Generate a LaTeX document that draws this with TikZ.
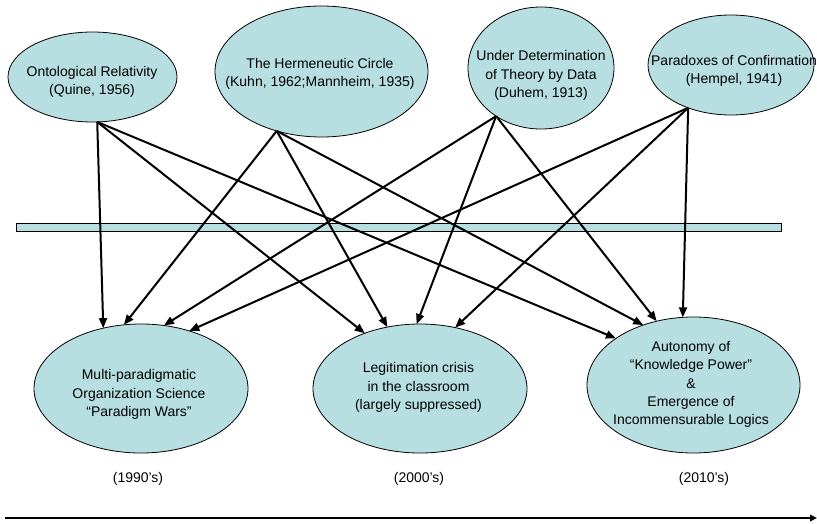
\documentclass[tikz,border=0pt]{standalone}
\usepackage{fontspec}
\setmainfont{Liberation Sans}
\usetikzlibrary{arrows.meta,shapes.geometric}
\definecolor{paleteal}{RGB}{183,223,226}
\begin{document}
\begin{tikzpicture}[x=1pt,y=-1pt,
  bubble/.style={ellipse,draw=black,line width=0.8pt,fill=paleteal,inner sep=0pt,outer sep=0pt},
  caption/.style={align=center,inner sep=0pt,font=\fontsize{14}{18.2}\selectfont},
  conn/.style={line width=2pt,-{Triangle[length=10pt,width=8pt]}},
  timeline/.style={line width=2.2pt,-{Triangle[length=7pt,width=6.5pt]}}]
\useasboundingbox (0,0) rectangle (817,523);

% upper row: sources
\node[bubble,minimum width=169pt,minimum height=90pt]  (e1) at (92.5,77) {};
\node[bubble,minimum width=213pt,minimum height=131pt] (e2) at (321.5,71.5) {};
\node[bubble,minimum width=146pt,minimum height=122pt] (e3) at (541,68) {};
\node[bubble,minimum width=166pt,minimum height=100pt] (e4) at (731,65) {};

\node[caption] (e1t) at (92,82) {Ontological Relativity\\(Quine, 1956)};
\node[caption] (e2t) at (320,73.6) {The Hermeneutic Circle\\(Kuhn, 1962;Mannheim, 1935)};
\node[caption] (e3t) at (541,75.4) {Under Determination\\of Theory by Data\\(Duhem, 1913)};
\node[caption] (e4t) at (734,71) {Paradoxes of Confirmation\\(Hempel, 1941)};

% dividing bar
\node[draw=black,line width=0.8pt,fill=paleteal,minimum width=765pt,minimum height=8pt,inner sep=0pt] (bar) at (398.5,227) {};

% lower row: outcomes
\node[bubble,minimum width=214pt,minimum height=129pt] (b1) at (141,388.5) {};
\node[bubble,minimum width=214pt,minimum height=129pt] (b2) at (420,388.5) {};
\node[bubble,minimum width=213pt,minimum height=136pt] (b3) at (693.5,385) {};

\node[caption] (b1t) at (139,394.4) {Multi-paradigmatic\\Organization Science\\“Paradigm Wars”};
\node[caption] (b2t) at (418.5,387.4) {Legitimation crisis\\in the classroom\\(largely suppressed)};
\node[caption] (b3t) at (691,384.4) {Autonomy of\\“Knowledge Power”\\\&\\Emergence of\\Incommensurable Logics};

% decades
\node[caption] (d1) at (138,479) {(1990’s)};
\node[caption] (d2) at (419,479) {(2000’s)};
\node[caption] (d3) at (704,479) {(2010’s)};

% connectors
\draw[conn] (e1.-84.4) -- (b1.122.8);
\draw[conn] (e1.-84.4) -- (b2.135.2);
\draw[conn] (e1.-84.4) -- (b3.149.2);

\draw[conn] (e2.-127.9) -- (b1.105);
\draw[conn] (e2.-127.9) -- (b2.118.2);
\draw[conn] (e2.-127.9) -- (b3.130.7);

\draw[conn] (e3.-133.5) -- (b1.70.1);
\draw[conn] (e3.-133.5) -- (b2.93.5);
\draw[conn] (e3.-133.5) -- (b3.120.8);

\draw[conn] (e4.-135) -- (b1.50.5);
\draw[conn] (e4.-135) -- (b2.60.5);
\draw[conn] (e4.-135) -- (b3.99.6);

% time axis
\coordinate (t0) at (5,518);
\coordinate (t1) at (817,518);
\draw[timeline] (t0) -- (t1);
\end{tikzpicture}
\end{document}
